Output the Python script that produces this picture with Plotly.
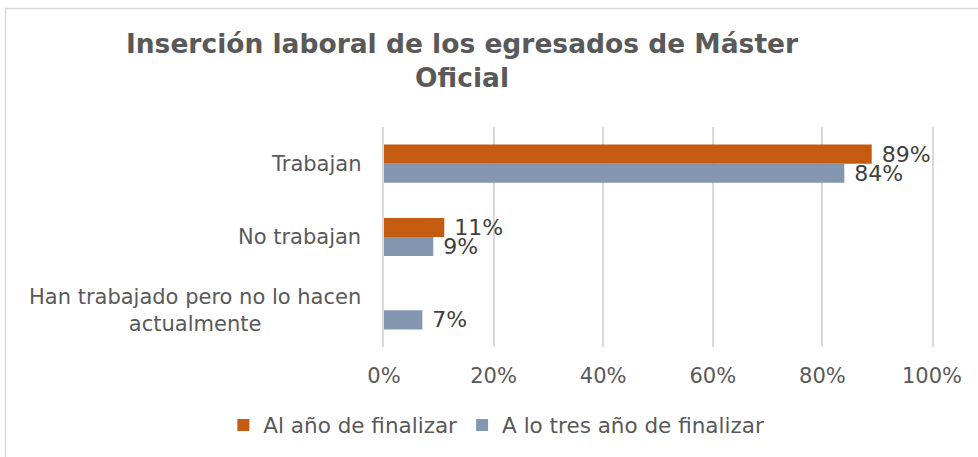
import plotly.graph_objects as go

# Categories (top to bottom) and shares per series
categories = [
    "Trabajan",
    "No trabajan",
    "Han trabajado pero no lo hacen<br>actualmente",
]
series_names = ["Al año de finalizar", "A lo tres año de finalizar"]
al_ano = [0.89, 0.11, None]
tres_anos = [0.84, 0.09, 0.07]
x_ticks = [0, 0.2, 0.4, 0.6, 0.8, 1.0]
x_tick_labels = ["0%", "20%", "40%", "60%", "80%", "100%"]

colors = ["#C55A11", "#8497B0"]
FONT = "DejaVu Sans"
TEXT_GRAY = "#595959"
LABEL_GRAY = "#404040"
GRID = "#d9d9d9"

fig = go.Figure()
for name, vals, col in zip(series_names, [al_ano, tres_anos], colors):
    fig.add_trace(go.Bar(
        y=categories,
        x=vals,
        name=name,
        orientation="h",
        marker=dict(color=col, line=dict(width=0)),
        text=[None if v is None else "\u00a0" + f"{round(v * 100)}%" for v in vals],
        textposition="outside",
        textfont=dict(family=FONT, size=22, color=LABEL_GRAY),
        constraintext="none",
        cliponaxis=False,
        hoverinfo="skip",
    ))

# Category labels, centred line by line
annotations = []
for cat in categories:
    annotations.append(dict(
        x=-0.038, xref="paper", xanchor="right",
        y=cat, yref="y", yanchor="middle",
        text=cat, showarrow=False, align="center",
        font=dict(family=FONT, size=21, color=TEXT_GRAY),
    ))

fig.update_layout(
    width=978,
    height=457,
    margin=dict(l=384, r=46, t=127, b=110),
    paper_bgcolor="white",
    plot_bgcolor="white",
    barmode="group",
    bargap=0.48,
    bargroupgap=0,
    title=dict(
        text="Inserción laboral de los egresados de Máster<br>Oficial",
        x=462 / 978, xanchor="center", xref="container",
        y=1 - 53 / 457, yanchor="top", yref="container",
        font=dict(family=FONT, size=26.5, color=TEXT_GRAY, weight="bold"),
    ),
    xaxis=dict(
        range=[0, 1],
        tickvals=x_ticks,
        ticktext=x_tick_labels,
        showgrid=True,
        gridcolor=GRID,
        gridwidth=1.5,
        zeroline=False,
        showline=False,
        ticks="",
        ticklabelstandoff=14,
        tickfont=dict(family=FONT, size=21, color=TEXT_GRAY),
        fixedrange=True,
    ),
    yaxis=dict(
        categoryorder="array",
        categoryarray=categories,
        autorange="reversed",
        showticklabels=False,
        showgrid=False,
        zeroline=False,
        # vertical lines at 0% and 100%, same look as the grid
        showline=True,
        mirror=True,
        linecolor=GRID,
        linewidth=1.5,
        ticks="",
        fixedrange=True,
    ),
    legend=dict(
        orientation="h",
        x=0.205, xanchor="center",
        y=-0.3545, yanchor="middle",
        font=dict(family=FONT, size=21.5, color=TEXT_GRAY),
        traceorder="normal",
        itemclick=False,
        itemdoubleclick=False,
    ),
    annotations=annotations,
    shapes=[dict(
        type="rect", xref="paper", yref="paper",
        x0=(5.5 - 384) / 548, x1=1.2,
        y0=-0.7, y1=(347 - 8.5) / 220,
        line=dict(color=GRID, width=1.5),
        fillcolor="rgba(0,0,0,0)",
        layer="below",
    )],
    showlegend=True,
)

fig.write_html("out.html")
